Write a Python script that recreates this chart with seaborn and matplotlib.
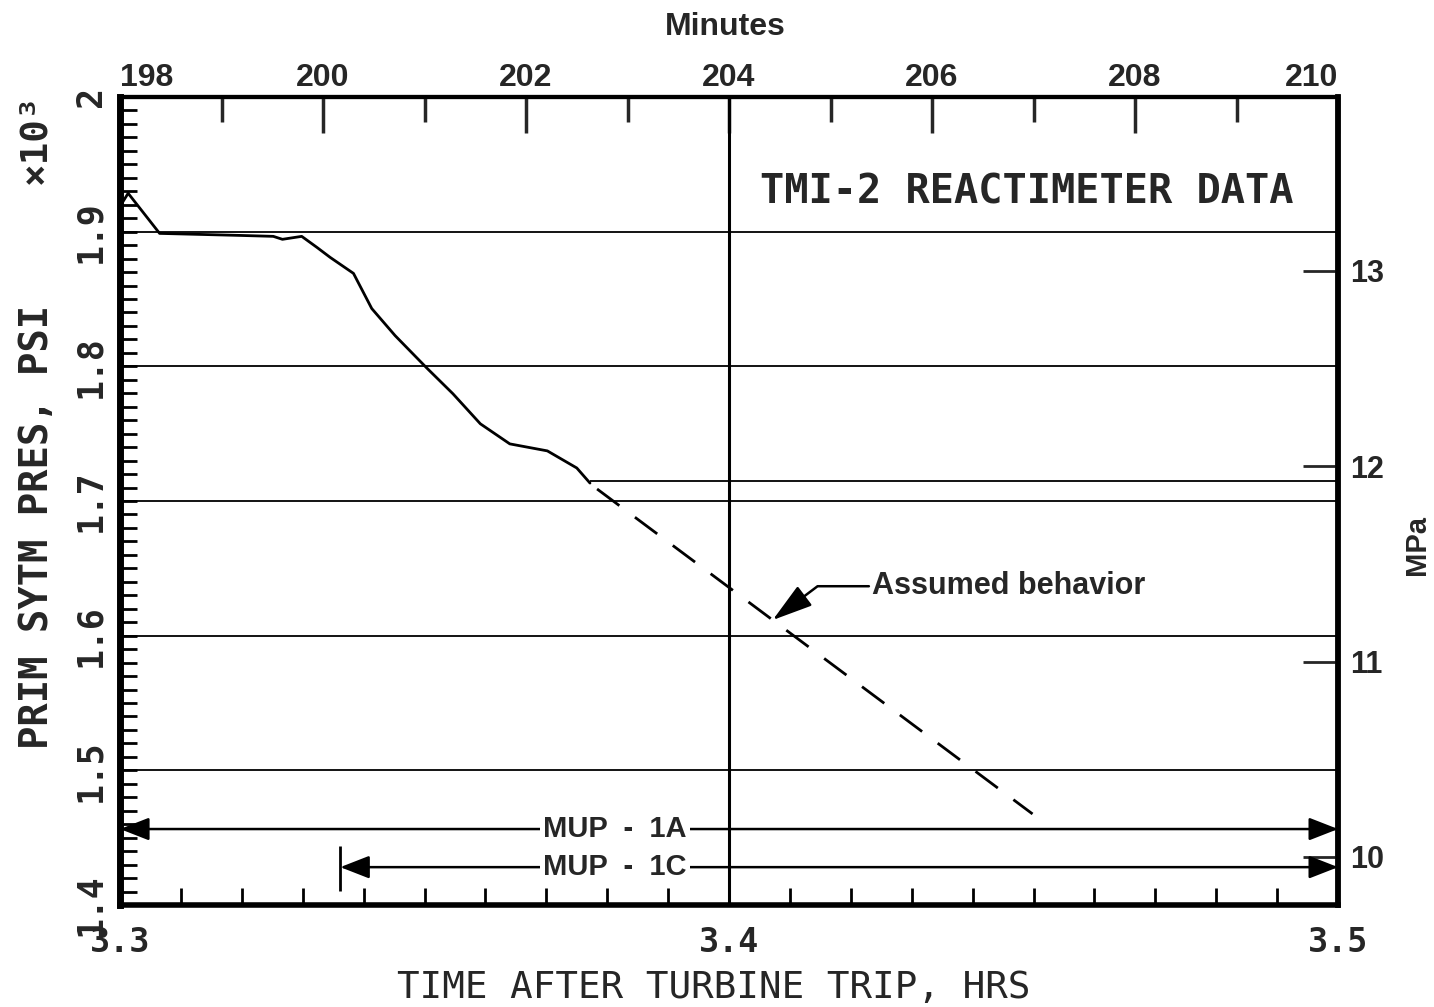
import matplotlib
matplotlib.use("Agg")
import matplotlib.pyplot as plt
import matplotlib.ticker as mticker
import numpy as np
import pandas as pd
import seaborn as sns

# ---------------- data ----------------
# measured reactimeter record: minutes after turbine trip, pressure psig
measured_minutes = [198.01, 198.08, 198.39, 199.18, 199.51, 199.60, 199.79, 199.94,
                    200.07, 200.30, 200.48, 200.71, 201.02, 201.28, 201.55, 201.84,
                    202.21, 202.50, 202.63]
measured_psi = [1920.0, 1928.5, 1898.7, 1897.2, 1896.5, 1894.3, 1896.5, 1888.3,
                1880.9, 1869.0, 1842.9, 1822.8, 1798.9, 1779.6, 1757.3, 1742.4,
                1737.2, 1724.5, 1713.3]
# assumed behaviour (dashed extrapolation)
assumed_minutes = [202.70, 206.99]
assumed_psi = [1708.9, 1467.6]
# recorder level line after the end of the record
level_start_minutes = 202.63
level_psi = 1714.8
# make-up pump run periods
mup_labels = ["MUP  -  1A", "MUP  -  1C"]
mup_start_minutes = [198.0, 200.17]
mup_end_minutes = [210.0, 210.0]
# annotation target
assumed_label = "Assumed behavior"
assumed_point_minutes = 204.43
x_ticks_hrs = [3.3, 3.4, 3.5]
minute_ticks = [198, 200, 202, 204, 206, 208, 210]
minute_minor_ticks = [199, 201, 203, 205, 207, 209]
mpa_ticks = [10, 11, 12, 13]

# ---------------- conversions ----------------
def kpsi_to_mpa(k):
    return (np.asarray(k) * 1000.0 + 14.7) / 145.038

def mpa_to_kpsi(m):
    return (np.asarray(m) * 145.038 - 14.7) / 1000.0

df_meas = pd.DataFrame({"hrs": np.array(measured_minutes) / 60.0,
                        "kpsi": np.array(measured_psi) / 1000.0})
df_ass = pd.DataFrame({"hrs": np.array(assumed_minutes) / 60.0,
                       "kpsi": np.array(assumed_psi) / 1000.0})

sns.set_theme(style="white")
plt.rcParams["font.family"] = ["DejaVu Sans Mono", "DejaVu Sans"]
SANS = ["Liberation Sans", "DejaVu Sans"]
MONO = ["DejaVu Sans Mono", "DejaVu Sans"]

fig = plt.figure(figsize=(14.34, 10.07), dpi=100)
fig.patch.set_facecolor("white")
ax = fig.add_axes([0.0837, 0.1013, 0.8494, 0.8024])
ax.set_facecolor("white")

sns.lineplot(data=df_meas, x="hrs", y="kpsi", ax=ax, color="black", lw=2.0,
             sort=False, estimator=None)
sns.lineplot(data=df_ass, x="hrs", y="kpsi", ax=ax, color="black", lw=2.0,
             sort=False, estimator=None, linestyle=(0, (10, 7)))

ax.set_xlim(3.3, 3.5)
ax.set_ylim(1.4, 2.0)

# grid lines and reference lines
for v in np.arange(1.5, 1.95, 0.1):
    ax.axhline(v, color="black", lw=1.3, zorder=1)
ax.axvline(3.4, color="black", lw=2.2, zorder=1)
ax.hlines(level_psi / 1000.0, level_start_minutes / 60.0, 3.5, color="black", lw=1.3, zorder=1)

# ---------- bottom axis ----------
ax.xaxis.set_major_locator(mticker.FixedLocator(x_ticks_hrs))
ax.xaxis.set_minor_locator(mticker.MultipleLocator(0.01))
ax.xaxis.set_major_formatter(mticker.FormatStrFormatter("%.1f"))
ax.tick_params(axis="x", which="both", direction="in", bottom=True, top=False,
               length=12, width=2, color="black", pad=15)
ax.tick_params(axis="x", which="major", labelsize=24)
for lbl in ax.get_xticklabels():
    lbl.set_fontweight("bold")
    lbl.set_family(MONO)
ax.set_xlabel("TIME AFTER TURBINE TRIP, HRS", fontsize=27, family=MONO)
ax.xaxis.set_label_coords(0.4877, -0.080)

# ---------- left axis ----------
ax.yaxis.set_major_locator(mticker.MultipleLocator(0.1))
ax.yaxis.set_minor_locator(mticker.MultipleLocator(0.01))
ax.yaxis.set_major_formatter(mticker.FuncFormatter(
    lambda v, p: "2" if abs(v - 2.0) < 1e-9 else f"{v:.1f}"))
ax.tick_params(axis="y", which="both", direction="in", left=True, right=False,
               length=12, width=2, color="black", pad=9)
ax.tick_params(axis="y", which="major", labelsize=25, labelrotation=90)
for lbl in ax.get_yticklabels():
    lbl.set_fontweight("bold")
    lbl.set_family(MONO)
    lbl.set_va("center")
ax.set_ylabel("PRIM SYTM PRES, PSI", fontsize=28, fontweight="bold", family=MONO)
ax.yaxis.set_label_coords(-0.0525, 0.468)
fig.text(0.0244, 0.862, "×10³", rotation=90, fontsize=27, fontweight="bold",
         family=MONO, ha="center", va="center")

# ---------- spines ----------
for side, w in {"left": 5, "bottom": 4, "top": 3, "right": 4}.items():
    ax.spines[side].set_visible(True)
    ax.spines[side].set_color("black")
    ax.spines[side].set_linewidth(w)

# ---------- top axis (minutes) ----------
secx = ax.secondary_xaxis("top", functions=(lambda h: np.asarray(h) * 60.0,
                                            lambda m: np.asarray(m) / 60.0))
secx.xaxis.set_major_locator(mticker.FixedLocator(minute_ticks))
secx.xaxis.set_minor_locator(mticker.FixedLocator(minute_minor_ticks))
secx.xaxis.set_major_formatter(mticker.FormatStrFormatter("%d"))
secx.tick_params(axis="x", which="major", direction="in", length=26, width=2.5,
                 labelsize=23, pad=3)
secx.tick_params(axis="x", which="minor", direction="in", length=18, width=2.5)
secx.spines["top"].set_linewidth(3)
for lbl in secx.get_xticklabels():
    lbl.set_fontweight("bold")
    lbl.set_family(SANS)
secx.set_xlabel("Minutes", fontsize=23, fontweight="bold", family=SANS)
secx.xaxis.set_label_coords(0.4967, 1.0767, transform=ax.transAxes)

# ---------- right axis (MPa) ----------
secy = ax.secondary_yaxis("right", functions=(kpsi_to_mpa, mpa_to_kpsi))
secy.yaxis.set_major_locator(mticker.FixedLocator(mpa_ticks))
secy.tick_params(axis="y", which="major", direction="in", length=25, width=2,
                 labelsize=22, pad=9)
secy.spines["right"].set_linewidth(4)
for lbl in secy.get_yticklabels():
    lbl.set_fontweight("bold")
    lbl.set_family(SANS)
secy.set_ylabel("MPa", fontsize=21, fontweight="bold", family=SANS)
secy.yaxis.set_label_coords(1.0534, 0.4455, transform=ax.transAxes)

# ---------- annotations ----------
ax.text(0.5255, 0.882, "TMI-2 REACTIMETER DATA", transform=ax.transAxes,
        fontsize=29, fontweight="bold", family=MONO, ha="left", va="center")

mup_y = [1.4564, 1.4281]
for lab, s, e, y in zip(mup_labels, mup_start_minutes, mup_end_minutes, mup_y):
    ax.annotate("", xy=(e / 60.0, y), xytext=(s / 60.0, y),
                arrowprops=dict(arrowstyle="<|-|>,head_length=0.64,head_width=0.25",
                                lw=1.8, color="black", mutation_scale=28,
                                shrinkA=0, shrinkB=0), zorder=3)
    ax.text(3.3813, y, lab, ha="center", va="center", fontsize=21,
            fontweight="bold", family=SANS, zorder=4,
            bbox=dict(boxstyle="square,pad=0.12", fc="white", ec="none"))
ax.vlines(mup_start_minutes[1] / 60.0, mup_y[1] - 0.018, mup_y[1] + 0.016,
          color="black", lw=2, zorder=3)

tip_kpsi = np.interp(assumed_point_minutes, assumed_minutes, assumed_psi) / 1000.0
ax.annotate(assumed_label, xy=(assumed_point_minutes / 60.0, tip_kpsi),
            xytext=(205.41 / 60.0, 1.6367), ha="left", va="center",
            fontsize=22, fontweight="bold", family=SANS,
            arrowprops=dict(arrowstyle="-|>,head_length=1.0,head_width=0.3",
                            connectionstyle="angle,angleA=0,angleB=37,rad=0",
                            lw=1.8, color="black", mutation_scale=25,
                            shrinkA=0, shrinkB=0))

fig.canvas.draw()
for lbl in secx.get_xticklabels():
    if lbl.get_text() == "198":
        lbl.set_ha("left")
    elif lbl.get_text() == "210":
        lbl.set_ha("right")

fig.savefig("out.png", dpi=100, facecolor="white")
